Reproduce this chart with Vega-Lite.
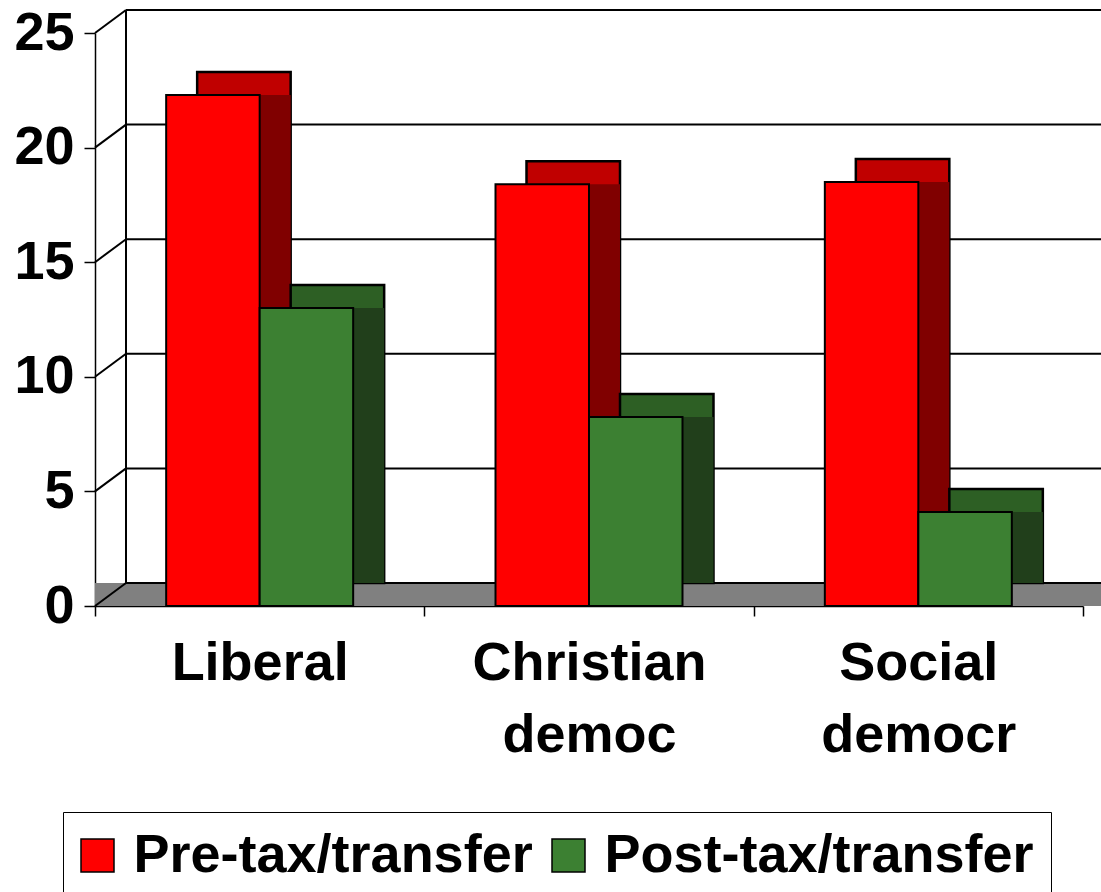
{
  "$schema": "https://vega.github.io/schema/vega-lite/v6.json",
  "width": 988,
  "height": 573,
  "autosize": {"type": "none"},
  "padding": {"left": 95, "top": 33, "right": 18, "bottom": 286},
  "background": "white",
  "config": {
    "view": {"stroke": null},
    "font": "Liberation Sans",
    "axis": {
      "labelFont": "Liberation Sans",
      "labelFontSize": 54,
      "labelFontWeight": "bold",
      "labelColor": "black",
      "tickColor": "black",
      "tickWidth": 1.5,
      "domainColor": "black",
      "domainWidth": 1.5,
      "grid": false,
      "title": null
    }
  },
  "datasets": {
    "bars": [
      {"group": "Liberal", "series": "Pre-tax/transfer", "value": 22.3},
      {"group": "Liberal", "series": "Post-tax/transfer", "value": 13.0},
      {"group": "Christian democ", "series": "Pre-tax/transfer", "value": 18.4},
      {"group": "Christian democ", "series": "Post-tax/transfer", "value": 8.25},
      {"group": "Social democr", "series": "Pre-tax/transfer", "value": 18.5},
      {"group": "Social democr", "series": "Post-tax/transfer", "value": 4.1}
    ],
    "grid": [{"v": 0}, {"v": 5}, {"v": 10}, {"v": 15}, {"v": 20}, {"v": 25}]
  },
  "layer": [
    {
      "data": {"name": "grid"},
      "transform": [{"filter": "datum.v === 0"}],
      "mark": {"type": "rect", "x": 0, "x2": 1006, "y2Offset": -23, "fill": "#808080"},
      "encoding": {
        "y": {"field": "v", "type": "quantitative", "title": null, "scale": {"domain": [0, 25], "nice": false}},
        "y2": {"field": "v"}
      }
    },
    {
      "data": {"name": "grid"},
      "mark": {"type": "rule", "x": 31, "x2": 1019, "yOffset": -23, "color": "black", "strokeWidth": 2},
      "encoding": {
        "y": {"field": "v", "type": "quantitative", "title": null, "scale": {"domain": [0, 25], "nice": false}}
      }
    },
    {
      "data": {"name": "grid"},
      "mark": {"type": "rule", "y2Offset": -23, "color": "black", "strokeWidth": 2},
      "encoding": {
        "x": {"value": 0},
        "x2": {"value": 31},
        "y": {"field": "v", "type": "quantitative", "title": null, "scale": {"domain": [0, 25], "nice": false}},
        "y2": {"field": "v"}
      }
    },
    {
      "data": {"name": "grid"},
      "transform": [{"filter": "datum.v === 0"}],
      "mark": {"type": "rule", "x": 31, "yOffset": -23, "y2Offset": -23, "color": "black", "strokeWidth": 2},
      "encoding": {
        "y": {"field": "v", "type": "quantitative", "title": null, "scale": {"domain": [0, 25], "nice": false}},
        "y2": {"datum": 25}
      }
    },
    {
      "data": {"name": "bars"},
      "transform": [{"filter": "datum.series === 'Pre-tax/transfer'"}],
      "mark": {"type": "bar", "width": {"band": 0.2839}, "xOffset": -15.75, "yOffset": -23, "y2Offset": -23, "fill": "#c00000", "stroke": "black", "strokeWidth": 2.5},
      "encoding": {
        "x": {"field": "group", "type": "nominal", "sort": ["Liberal", "Christian democ", "Social democr"], "scale": {"paddingInner": 0, "paddingOuter": 0}},
        "y": {"field": "value", "type": "quantitative", "title": null, "scale": {"domain": [0, 25], "nice": false}},
        "y2": {"datum": 0}
      }
    },
    {
      "data": {"name": "bars"},
      "transform": [{"filter": "datum.series === 'Pre-tax/transfer'"}],
      "mark": {"type": "bar", "width": {"band": 0.2839}, "xOffset": -15.75, "y2Offset": -23, "fill": "#800000"},
      "encoding": {
        "x": {"field": "group", "type": "nominal", "sort": ["Liberal", "Christian democ", "Social democr"]},
        "y": {"field": "value", "type": "quantitative", "title": null, "scale": {"domain": [0, 25], "nice": false}},
        "y2": {"datum": 0}
      }
    },
    {
      "data": {"name": "bars"},
      "transform": [{"filter": "datum.series === 'Post-tax/transfer'"}],
      "mark": {"type": "bar", "width": {"band": 0.2839}, "xOffset": 77.75, "yOffset": -23, "y2Offset": -23, "fill": "#2d5f24", "stroke": "black", "strokeWidth": 2.5},
      "encoding": {
        "x": {"field": "group", "type": "nominal", "sort": ["Liberal", "Christian democ", "Social democr"]},
        "y": {"field": "value", "type": "quantitative", "title": null, "scale": {"domain": [0, 25], "nice": false}},
        "y2": {"datum": 0}
      }
    },
    {
      "data": {"name": "bars"},
      "transform": [{"filter": "datum.series === 'Post-tax/transfer'"}],
      "mark": {"type": "bar", "width": {"band": 0.2839}, "xOffset": 77.75, "y2Offset": -23, "fill": "#213f1b"},
      "encoding": {
        "x": {"field": "group", "type": "nominal", "sort": ["Liberal", "Christian democ", "Social democr"]},
        "y": {"field": "value", "type": "quantitative", "title": null, "scale": {"domain": [0, 25], "nice": false}},
        "y2": {"datum": 0}
      }
    },
    {
      "data": {"name": "bars"},
      "transform": [{"filter": "datum.series === 'Pre-tax/transfer'"}],
      "mark": {"type": "bar", "width": {"band": 0.2839}, "xOffset": -46.75, "stroke": "black", "strokeWidth": 2, "opacity": 1},
      "encoding": {
        "x": {"field": "group", "type": "nominal", "sort": ["Liberal", "Christian democ", "Social democr"]},
        "y": {"field": "value", "type": "quantitative", "title": null, "scale": {"domain": [0, 25], "nice": false}},
        "y2": {"datum": 0},
        "color": {"field": "series", "type": "nominal", "scale": {"domain": ["Pre-tax/transfer", "Post-tax/transfer"], "range": ["#ff0000", "#3c8032"]}}
      }
    },
    {
      "data": {"name": "bars"},
      "transform": [{"filter": "datum.series === 'Post-tax/transfer'"}],
      "mark": {"type": "bar", "width": {"band": 0.2839}, "xOffset": 46.75, "stroke": "black", "strokeWidth": 2, "opacity": 1},
      "encoding": {
        "x": {
          "field": "group", "type": "nominal", "sort": ["Liberal", "Christian democ", "Social democr"],
          "axis": {"tickBand": "extent", "bandPosition": 0.5, "tickSize": 10, "labelAngle": 0, "labelAlign": "center", "labelExpr": "split(datum.label, ' ')", "labelLineHeight": 72, "labelPadding": 20, "labelBaseline": "top", "labelLimit": 600, "labelOverlap": false, "labelBound": false, "labelFlush": false}
        },
        "y": {
          "field": "value", "type": "quantitative", "title": null, "scale": {"domain": [0, 25], "nice": false},
          "axis": {"values": [0, 5, 10, 15, 20, 25], "tickSize": 11, "labelPadding": 10, "labelBound": false, "labelFlush": false, "labelOverlap": false}
        },
        "y2": {"datum": 0},
        "color": {
          "field": "series", "type": "nominal",
          "scale": {"domain": ["Pre-tax/transfer", "Post-tax/transfer"], "range": ["#ff0000", "#3c8032"]},
          "legend": {
            "orient": "none", "legendX": -32, "legendY": 779, "direction": "horizontal", "title": null,
            "symbolType": "square", "symbolSize": 1089, "symbolStrokeColor": "black", "symbolStrokeWidth": 1.5, "symbolOpacity": 1,
            "symbolOffset": -9,
            "labelFont": "Liberation Sans", "labelFontSize": 54, "labelFontWeight": "bold", "labelColor": "black", "labelLimit": 600,
            "labelOffset": 9, "columnPadding": 15, "strokeColor": "black", "fillColor": "white", "padding": 16.5
          }
        }
      }
    }
  ]
}
